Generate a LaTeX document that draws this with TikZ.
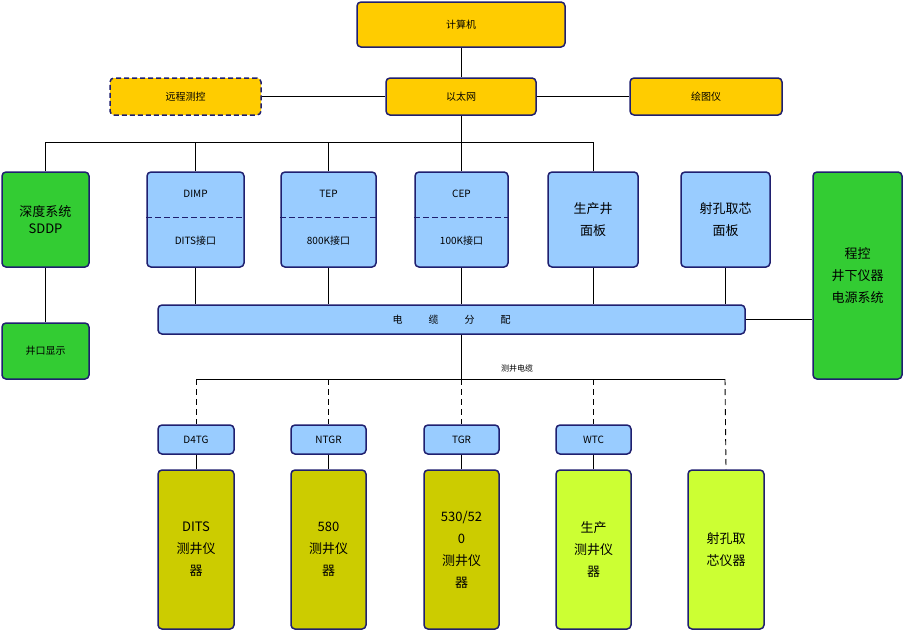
\documentclass[tikz,border=0pt]{standalone}
\usepackage{fontspec}
\setmainfont{Noto Sans CJK SC}
\begin{document}
\begin{tikzpicture}[x=1pt,y=-1pt,
  bx/.style={draw=navy,line width=1.5pt,rounded corners=4pt,align=center,font=\fontsize{13}{15}\selectfont,inner sep=0pt},
  ln/.style={line width=0.9pt},
  dl/.style={line width=0.9pt,dash pattern=on 6pt off 4pt}]
\definecolor{navy}{HTML}{1F1F6F}
\definecolor{org}{HTML}{FFCC00}
\definecolor{grn}{HTML}{33CC33}
\definecolor{lb}{HTML}{99CCFF}
\definecolor{olv}{HTML}{CCCC00}
\definecolor{lime}{HTML}{CCFF33}
\useasboundingbox (0,0) rectangle (904,632);
\newcommand{\bb}[7]{\node[bx,fill=#6,minimum width=#3-#2,minimum height=#5-#4,#7] (#1) at ({(#2+#3)/2},{(#4+#5)/2}) {};}
% top
\bb{pc}{357}{565}{2}{47}{org}{} \node at (pc) {计算机};
\bb{rc}{110}{261}{78}{115}{org}{dash pattern=on 5pt off 3pt} \node at (rc) {远程测控};
\bb{eth}{386}{536}{78}{115}{org}{} \node at (eth) {以太网};
\bb{plt}{630}{782}{78}{115}{org}{} \node at (plt) {绘图仪};
\draw[ln] (pc) -- (eth);
\draw[ln] (rc) -- (eth);
\draw[ln] (eth) -- (plt);
% middle boxes
\bb{sd}{2}{89}{172}{267}{grn}{} \node[align=center,font=\fontsize{13}{17}\selectfont] at (sd) {深度系统\\SDDP};
\bb{wk}{2}{89}{323}{379}{grn}{} \node at (wk) {井口显示};
\draw[ln] (sd) -- (wk);
\bb{dimp}{147}{244}{172}{267}{lb}{}
\bb{tep}{281}{376}{172}{267}{lb}{}
\bb{cep}{415}{508}{172}{267}{lb}{}
\bb{scj}{548}{638}{172}{267}{lb}{}
\bb{sk}{681}{770}{172}{267}{lb}{}
\foreach \n/\a/\b in {dimp/DIMP/DITS接口,tep/TEP/800K接口,cep/CEP/100K接口}{
  \draw[navy,line width=1pt,dash pattern=on 6pt off 3pt] (\n.west|-0,217) -- (\n.east|-0,217);
  \node at (\n.center|-0,194) {\a};
  \node at (\n.center|-0,241) {\b};
}
\node[align=center,font=\fontsize{13}{22}\selectfont] at (scj) {生产井\\面板};
\node[align=center,font=\fontsize{13}{22}\selectfont] at (sk) {射孔取芯\\面板};
\bb{pw}{813}{902}{172}{379}{grn}{} \node[align=center,font=\fontsize{13}{22}\selectfont] at (pw) {程控\\井下仪器\\电源系统};
\bb{bar}{158}{745}{305}{334}{lb}{} \node at (bar) {电\hspace{2.6em}缆\hspace{2.6em}分\hspace{2.6em}配};
% bus
\coordinate (b0) at (461,142);
\draw[ln] (eth) -- (b0);
\draw[ln] (45,142) -- (594,142);
\foreach \n in {sd,dimp,tep,cep,scj}{\draw[ln] (\n.north) -- (\n.north|-b0);}
\foreach \n in {dimp,tep,cep,scj,sk}{\draw[ln] (\n.south) -- (\n.south|-bar.north);}
\draw[ln] (bar.east) -- (bar.east-|pw.west);
% cable
\coordinate (c0) at (461,379);
\draw[ln] (bar.south-|c0) -- (c0);
\node[font=\fontsize{8}{9}\selectfont] at (517,368) {测井电缆};
\draw[ln] (196,379) -- (725,379);
\bb{t1}{158}{234}{425}{454}{lb}{} \node at (t1) {D4TG};
\bb{t2}{291}{366}{425}{454}{lb}{} \node at (t2) {NTGR};
\bb{t3}{424}{499}{425}{454}{lb}{} \node at (t3) {TGR};
\bb{t4}{556}{631}{425}{454}{lb}{} \node at (t4) {WTC};
\bb{i1}{158}{234}{470}{629}{olv}{} \node[align=center,font=\fontsize{13}{22}\selectfont] at (i1) {DITS\\测井仪\\器};
\bb{i2}{291}{366}{470}{629}{olv}{} \node[align=center,font=\fontsize{13}{22}\selectfont] at (i2) {580\\测井仪\\器};
\bb{i3}{424}{499}{470}{629}{olv}{} \node[align=center,font=\fontsize{13}{22}\selectfont] at (i3) {530/52\\0\\测井仪\\器};
\bb{i4}{556}{631}{470}{629}{lime}{} \node[align=center,font=\fontsize{13}{22}\selectfont] at (i4) {生产\\测井仪\\器};
\bb{i5}{688}{764}{470}{629}{lime}{} \node[align=center,font=\fontsize{13}{22}\selectfont] at (i5) {射孔取\\芯仪器};
\foreach \n in {t1,t2,t3,t4}{\draw[dl] (\n.north|-c0) -- (\n.north);}
\draw[dl] (725,379) -- (i5.north);
\foreach \k in {1,2,3,4}{\draw[ln] (t\k) -- (i\k);}
\end{tikzpicture}
\end{document}
